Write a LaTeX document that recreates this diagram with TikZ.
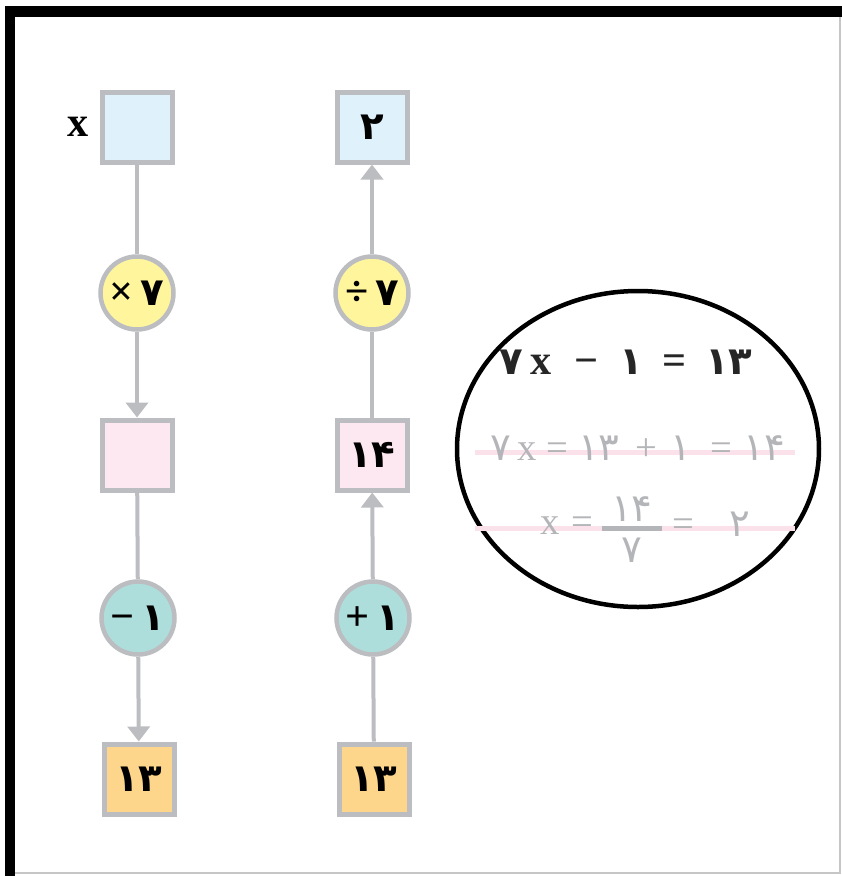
\documentclass[tikz,border=0pt]{standalone}
\usepackage{fontspec}
\setmainfont{Liberation Serif}
\newfontfamily\pfont[Script=Arabic]{DejaVu Sans}
\usetikzlibrary{arrows.meta,positioning}

\definecolor{edgegray}{HTML}{BCBDC0}
\definecolor{inblue}{HTML}{DFF2FC}
\definecolor{midpink}{HTML}{FDE7F0}
\definecolor{outorange}{HTML}{FED68B}
\definecolor{opyellow}{HTML}{FFF59C}
\definecolor{opteal}{HTML}{AEDEDB}
\definecolor{stepgray}{HTML}{B4B5B8}
\definecolor{rulepink}{HTML}{FBE1EA}

\begin{document}
\begin{tikzpicture}[x=0.1mm,y=-0.1mm,
	numbox/.style={draw=edgegray,line width=0.5mm,minimum size=7mm,inner sep=0pt,
		font=\pfont\bfseries\fontsize{11}{13}\selectfont},
	opcirc/.style={circle,draw=edgegray,line width=0.45mm,minimum size=7.3mm,inner sep=0pt,
		font=\bfseries\fontsize{12}{13}\selectfont},
	flow/.style={draw=edgegray,line width=0.4mm},
	flowto/.style={flow,-{Triangle[width=2.2mm,length=1.5mm]}},
	eqtext/.style={inner sep=0pt,font=\fontsize{11}{13}\selectfont}]
	
	\useasboundingbox (0,0) rectangle (842,876);
	
	% frame
	\draw[gray!45,line width=0.2mm] (10,873) -- (840,873) -- (840,11);
	\draw[line width=1.1mm] (10,876) -- (10,11) -- (842,11);
	
	% forward column
	\node[numbox,fill=inblue] (in) at (137,127) {};
	\node[left=1mm of in,inner sep=0pt,font=\bfseries\fontsize{12}{14}\selectfont] (xlab) {x};
	\node[opcirc,fill=opyellow] (times) at (137,293) {×\,{\pfont\fontsize{11}{13}\selectfont ۷}};
	\node[numbox,fill=midpink] (mid) at (137,455) {};
	\node[opcirc,fill=opteal] (minus) at (138,618) {−\,{\pfont\fontsize{11}{13}\selectfont ۱}};
	\node[numbox,fill=outorange] (out) at (139,779) {۱۳};
	
	\draw[flow] (in) -- (times);
	\draw[flowto] (times) -- (mid);
	\draw[flow] (mid) -- (minus);
	\draw[flowto] (minus) -- (out);
	
	% backward column
	\node[numbox,fill=inblue] (res) at (372,127) {۲};
	\node[opcirc,fill=opyellow] (divide) at (372,293) {÷\,{\pfont\fontsize{11}{13}\selectfont ۷}};
	\node[numbox,fill=midpink] (back) at (372,455) {۱۴};
	\node[opcirc,fill=opteal] (plus) at (373,618) {+\,{\pfont\fontsize{11}{13}\selectfont ۱}};
	\node[numbox,fill=outorange] (start) at (374,779) {۱۳};
	
	\draw[flow] (start) -- (plus);
	\draw[flowto] (plus) -- (back);
	\draw[flow] (back) -- (divide);
	\draw[flowto] (divide) -- (res);
	
	% working in the oval
	\draw[line width=0.45mm] (638,449) ellipse [x radius=181, y radius=158];
	\draw[rulepink,line width=0.5mm] (475,452) -- (795,452);
	\draw[rulepink,line width=0.5mm] (475,528) -- (795,528);
	
	\node[eqtext,text=black!85,font=\bfseries\fontsize{12}{14}\selectfont] (eqa) at (626,362)
		{{\pfont\fontsize{11}{13}\selectfont ۷}\,x\hspace{0.55em}−\hspace{0.5em}{\pfont\fontsize{11}{13}\selectfont ۱}\hspace{0.45em}=\hspace{0.45em}{\pfont\fontsize{11}{13}\selectfont ۱۳}};
	\node[eqtext,text=stepgray] (eqb) at (638,448)
		{{\pfont ۷}\,x\hspace{0.25em}=\hspace{0.25em}{\pfont ۱۳}\hspace{0.4em}+\hspace{0.35em}{\pfont ۱}\hspace{0.5em}=\hspace{0.3em}{\pfont ۱۴}};
	\node[eqtext,text=stepgray,anchor=east] (eqc) at (594,526) {x\hspace{0.3em}=};
	\node[eqtext,text=stepgray] (num) at (632,509) {\pfont ۱۴};
	\node[eqtext,text=stepgray] (den) at (632,550) {\pfont ۷};
	\draw[stepgray,line width=0.5mm] (602,528) -- (662,528);
	\node[eqtext,text=stepgray,anchor=west] (eqd) at (672,524) {=\hspace{0.9em}{\pfont ۲}};
	
\end{tikzpicture}
\end{document}
